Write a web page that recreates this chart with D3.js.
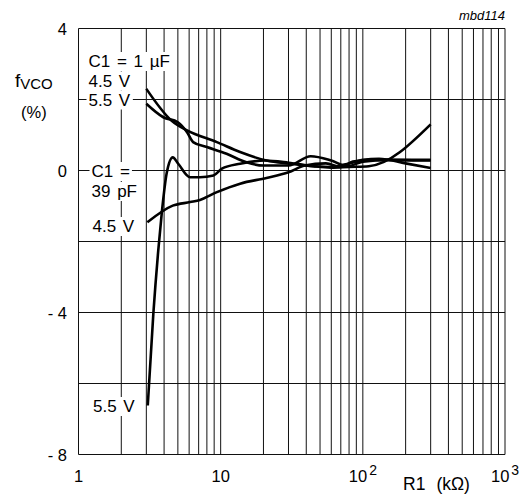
<!DOCTYPE html>
<html>
<head>
<meta charset="utf-8">
<script src="https://cdn.jsdelivr.net/npm/d3@7"></script>
<style>
  body { margin: 0; background: #fff; }
  text { font-family: "Liberation Sans", Arial, sans-serif; fill: #000; }
</style>
</head>
<body>
<svg id="chart" width="529" height="496"></svg>
<script>
// C1 = 1 uF, 4.5 V
var r1uF45 = [3, 4.5, 5.8, 9.4, 13.7, 21, 31, 45, 60, 80, 100, 130, 200, 300];
var f1uF45 = [2.30, 1.41, 1.13, 0.80, 0.52, 0.28, 0.19, 0.12, 0.10, 0.20, 0.30, 0.33, 0.20, 0.07];
// C1 = 1 uF, 5.5 V
var r1uF55 = [3, 3.95, 5.0, 5.8, 6.4, 8, 11, 15.2, 20, 30, 43, 60, 78, 100, 150, 300];
var f1uF55 = [1.88, 1.50, 1.36, 1.08, 0.80, 0.66, 0.47, 0.23, 0.14, 0.14, 0.40, 0.28, 0.12, 0.25, 0.30, 0.30];
// C1 = 39 pF, 4.5 V
var r39pF45 = [3.05, 4.6, 6.1, 7.15, 9.4, 13.7, 21, 30, 39, 55, 70, 85, 120, 300];
var f39pF45 = [-1.46, -0.99, -0.89, -0.83, -0.61, -0.37, -0.21, -0.05, 0.14, 0.20, 0.10, 0.25, 0.30, 0.28];
// C1 = 39 pF, 5.5 V
var r39pF55 = [3.07, 3.36, 3.64, 3.85, 4.17, 4.6, 5.03, 6.1, 7.15, 8.9, 10.2, 13.7, 20.5, 30, 45, 60, 80, 110, 300];
var f39pF55 = [-6.62, -4.04, -2.25, -1.21, -0.08, 0.37, 0.19, -0.19, -0.19, -0.14, 0.05, 0.19, 0.28, 0.22, 0.12, 0.08, 0.10, 0.12, 1.30];

var xTicks = [1, 10, 100, 1000];
var xTickBase = ["1", "10", "10", "10"];
var xTickExp = ["", "", "2", "3"];
var yTicks = [4, 0, -4, -8];
var yTickLabels = ["4", "0", "- 4", "- 8"];

var pLeft = 78.5, pRight = 505, pTop = 28.5, pBottom = 454.5;

var svg = d3.select("#chart");

var x = d3.scaleLog().domain([1, 1000]).range([pLeft, pRight]);
var y = d3.scaleLinear().domain([-8, 4]).range([pBottom, pTop]);

// grid: every 1..9 in each decade
var gridX = [];
[1, 10, 100].forEach(function(d) {
  for (var m = 1; m <= 9; m++) gridX.push(m * d);
});
gridX.push(1000);
var gridY = d3.range(-8, 5, 2);

svg.append("g")
  .attr("transform", "translate(0," + pBottom + ")")
  .call(d3.axisBottom(x).tickValues(gridX).tickSize(-(pBottom - pTop)).tickFormat("").offset(0))
  .call(function(g) { g.select(".domain").remove(); })
  .selectAll("line").attr("stroke", "#111").attr("stroke-width", 1);

svg.append("g")
  .attr("transform", "translate(" + pLeft + ",0)")
  .call(d3.axisLeft(y).tickValues(gridY).tickSize(-(pRight - pLeft)).tickFormat("").offset(0))
  .call(function(g) { g.select(".domain").remove(); })
  .selectAll("line").attr("stroke", "#111").attr("stroke-width", 1);

// y tick labels
svg.selectAll(".ylab")
  .data(yTicks)
  .enter().append("text")
  .attr("class", "ylab")
  .attr("x", 67)
  .attr("y", function(d) { return y(d) + 6; })
  .attr("text-anchor", "end")
  .style("font-size", "16.5px")
  .text(function(d, i) { return yTickLabels[i]; });

// x tick labels
var xl = svg.selectAll(".xlab")
  .data(xTicks)
  .enter().append("text")
  .attr("class", "xlab")
  .attr("x", function(d, i) { return xTickExp[i] ? x(d) - 14 : x(d); })
  .attr("y", 482)
  .attr("text-anchor", function(d, i) { return xTickExp[i] ? "start" : "middle"; })
  .style("font-size", "16.5px");
xl.append("tspan").text(function(d, i) { return xTickBase[i]; });
xl.append("tspan")
  .attr("dx", 2)
  .attr("dy", -7)
  .style("font-size", "14px")
  .text(function(d, i) { return xTickExp[i]; });

// axis titles
var xt = svg.append("text").attr("x", 403).attr("y", 490).style("font-size", "17.5px");
xt.append("tspan").text("R1");
xt.append("tspan").attr("dx", 11).text("(kΩ)");

var yt = svg.append("text").attr("x", 15).attr("y", 87).style("font-size", "19px");
yt.append("tspan").text("f");
yt.append("tspan").attr("dy", 2).style("font-size", "15px").text("VCO");
svg.append("text").attr("x", 21).attr("y", 118).style("font-size", "16.5px").text("(%)");

svg.append("text")
  .attr("x", 505).attr("y", 20)
  .attr("text-anchor", "end")
  .style("font-size", "13px")
  .style("font-style", "italic")
  .text("mbd114");

// curves
var line = d3.line()
  .x(function(d) { return x(d[0]); })
  .y(function(d) { return y(d[1]); })
  .curve(d3.curveMonotoneX);

[[r1uF45, f1uF45], [r1uF55, f1uF55], [r39pF45, f39pF45], [r39pF55, f39pF55]].forEach(function(s) {
  svg.append("path")
    .datum(d3.zip(s[0], s[1]))
    .attr("fill", "none")
    .attr("stroke", "#000")
    .attr("stroke-width", 2.6)
    .attr("stroke-linejoin", "round")
    .attr("d", line);
});

// curve annotations with white background
var notes = [
  ["C1 = 1 µF", 88.5, 67],
  ["4.5 V", 88.5, 86.5],
  ["5.5 V", 88.5, 105.5],
  ["C1 =", 91.5, 177],
  ["39 pF", 91.5, 197],
  ["4.5 V", 92.5, 232],
  ["5.5 V", 93, 412]
];
var ng = svg.append("g");
notes.forEach(function(n) {
  var t = ng.append("text")
    .attr("x", n[1]).attr("y", n[2])
    .style("font-size", "17px")
    .style("word-spacing", "2px")
    .text(n[0]);
  var b = t.node().getBBox();
  ng.insert("rect", "text")
    .attr("x", b.x - 2).attr("y", b.y)
    .attr("width", b.width + 4).attr("height", b.height)
    .attr("fill", "#fff");
});
</script>
</body>
</html>
